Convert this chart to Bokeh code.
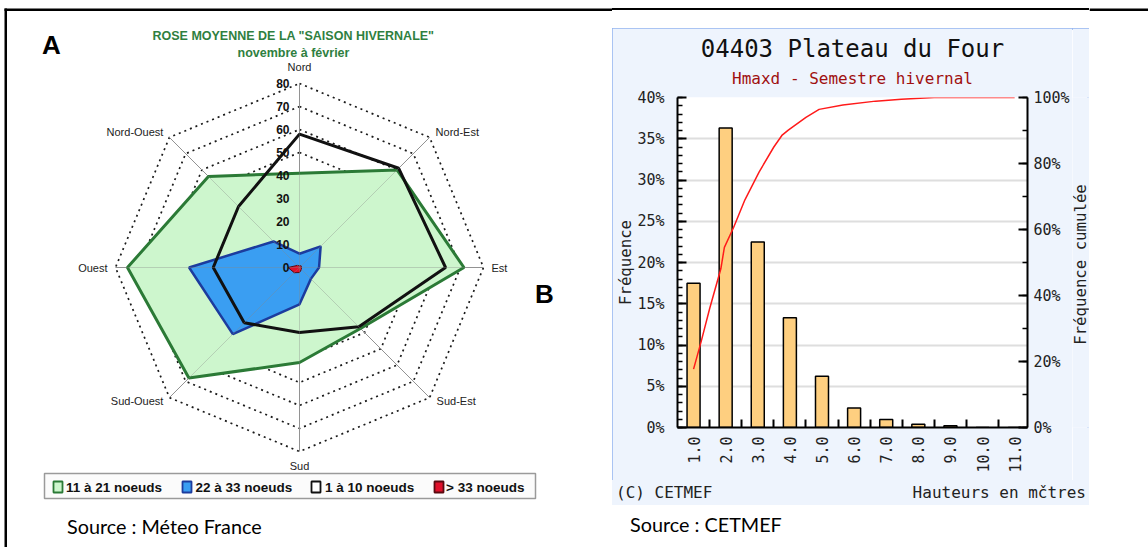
import math
from bokeh.plotting import figure
from bokeh.layouts import row, column
from bokeh.models import (Range1d, LinearAxis, SingleIntervalTicker, FixedTicker,
                          PrintfTickFormatter, Title, Div)
from bokeh.core.properties import value
from bokeh.embed import file_html
from bokeh.resources import INLINE

# ---------------- Panel A data : wind rose (frequency by direction) ----------------
directions = ["Nord", "Nord-Est", "Est", "Sud-Est", "Sud", "Sud-Ouest", "Ouest", "Nord-Ouest"]
angles_deg = [90, 45, 0, -45, -90, -135, 180, 135]
ring_levels = [10, 20, 30, 40, 50, 60, 70, 80]
axis_values = [0, 10, 20, 30, 40, 50, 60, 70, 80]
kn_11_21 = [41.0, 60.0, 71.5, 37.5, 41.3, 68.0, 74.8, 56.0]
kn_22_33 = [6.0, 13.0, 8.5, 7.0, 16.0, 41.0, 48.0, 16.0]
kn_1_10 = [58.0, 61.0, 63.5, 36.5, 28.3, 34.0, 37.5, 37.5]
kn_gt_33 = [0.7, 1.0, 0.8, 1.2, 2.2, 3.2, 5.0, 1.3]
legend_labels = ["11 à 21 noeuds", "22 à 33 noeuds", "1 à 10 noeuds", "> 33 noeuds"]

# ---------------- Panel B data : wave heights histogram ----------------
heights = [1.0, 2.0, 3.0, 4.0, 5.0, 6.0, 7.0, 8.0, 9.0, 10.0, 11.0]
height_labels = ["1.0", "2.0", "3.0", "4.0", "5.0", "6.0", "7.0", "8.0", "9.0", "10.0", "11.0"]
freq_pct = [17.5, 36.3, 22.5, 13.3, 6.2, 2.35, 0.98, 0.4, 0.2, 0.0, 0.0]
cum_x = [1.0, 1.23, 1.5, 1.85, 1.96, 2.25, 2.6, 3.04, 3.5, 3.75, 3.95, 4.5, 4.91, 5.65, 6.67, 7.47, 8.49, 11.0]
cum_pct = [17.7, 25.8, 36.0, 48.1, 54.6, 60.7, 69.0, 77.4, 85.0, 88.5, 90.1, 94.0, 96.4, 97.7, 98.9, 99.5, 100.0, 100.0]

ARIAL = "Liberation Sans"
MONO = "DejaVu Sans Mono"
SRC_FONT = "Lato"
W, H = 1148, 547

# ================= Panel A =================
A_W = 612
S = 2.3            # px per unit
CX, CY = 299, 267  # centre in page pixels


def ax_(X):
    return (X - CX) / S


def ay_(Y):
    return (CY - Y) / S


pA = figure(width=A_W, height=H, x_range=Range1d(ax_(0), ax_(A_W)),
            y_range=Range1d(ay_(H), ay_(0)), x_axis_type=None, y_axis_type=None,
            output_backend="svg", toolbar_location=None, min_border=0,
            outline_line_color=None, background_fill_color="white",
            border_fill_color="white")
pA.grid.visible = False


def polar(vals):
    xs = [v * math.cos(math.radians(a)) for v, a in zip(vals, angles_deg)]
    ys = [v * math.sin(math.radians(a)) for v, a in zip(vals, angles_deg)]
    return xs, ys


# dotted rings
ring_xs, ring_ys = [], []
for lv in ring_levels:
    xs, ys = polar([lv] * len(angles_deg))
    ring_xs.append(xs + xs[:1])
    ring_ys.append(ys + ys[:1])
pA.multi_line(ring_xs, ring_ys, line_color="#1a1a1a", line_width=1.7, line_dash="2 4")

# spokes
sx, sy = polar([ring_levels[-1]] * len(angles_deg))
pA.segment(x0=[0] * len(sx), y0=[0] * len(sy), x1=sx, y1=sy, line_color="#999999", line_width=1)

gx, gy = polar(kn_11_21)
pA.patch(gx, gy, fill_color="#cdf6cd", line_color="#2b7a36", line_width=3)
bx_, by_ = polar(kn_22_33)
pA.patch(bx_, by_, fill_color="#3a9ef2", line_color="#1c3c9e", line_width=2.5)
kx, ky = polar(kn_1_10)
pA.patch(kx, ky, fill_color=None, line_color="#111111", line_width=3)
rx, ry = polar(kn_gt_33)
pA.patch(rx, ry, fill_color="#e0102a", line_color="#5a0a10", line_width=1)

# spokes faintly over the fills
pA.segment(x0=[0] * len(sx), y0=[0] * len(sy), x1=sx, y1=sy, line_color="#888888",
           line_width=1, line_alpha=0.35)

# radial value labels
pA.text(x=[-10 / S] * len(axis_values), y=axis_values, text=[str(v) for v in axis_values],
        text_align="right", text_baseline="middle", text_font=value(ARIAL),
        text_font_style="bold", text_font_size="12px", text_color="#111111")

# direction labels (offsets in px)
offs = {"Nord": (0, -17, "center"), "Nord-Est": (6, -5, "left"), "Est": (8, 0, "left"),
        "Sud-Est": (7, 3, "left"), "Sud": (0, 14, "center"), "Sud-Ouest": (-6, 3, "right"),
        "Ouest": (-8, 0, "right"), "Nord-Ouest": (-6, -5, "right")}
for name, x0, y0 in zip(directions, sx, sy):
    dx, dy, al = offs[name]
    pA.text(x=[x0 + dx / S], y=[y0 - dy / S], text=[name], text_align=al,
            text_baseline="middle", text_font=value(ARIAL), text_font_size="11px",
            text_color="#222222")

# titles
pA.text(x=[ax_(293)], y=[ay_(35)], text=['ROSE MOYENNE DE LA "SAISON HIVERNALE"'],
        text_align="center", text_baseline="middle", text_font=value(ARIAL),
        text_font_style="bold", text_font_size="12.5px", text_color="#2f7f3f")
pA.text(x=[ax_(293)], y=[ay_(52)], text=["novembre à février"],
        text_align="center", text_baseline="middle", text_font=value(ARIAL),
        text_font_style="bold", text_font_size="12.5px", text_color="#2f7f3f")

# legend
pA.quad(left=[ax_(44)], right=[ax_(535)], top=[ay_(473)], bottom=[ay_(498)],
        fill_color="#fbfbfb", line_color="#9a9a9a", line_width=1.5)
sq_left = [53, 182, 311, 434]
txt_left = [65.5, 195, 324.5, 445.5]
sq_fill = ["#cdf6cd", "#3a9ef2", "white", "#e0102a"]
sq_line = ["#2b7a36", "#1c3c9e", "#111111", "#5a0a10"]
pA.quad(left=[ax_(v) for v in sq_left], right=[ax_(v + 9) for v in sq_left],
        top=[ay_(481)] * 4, bottom=[ay_(492)] * 4, fill_color=sq_fill, line_color=sq_line,
        line_width=1.8)
pA.text(x=[ax_(v) for v in txt_left], y=[ay_(487)] * 4, text=legend_labels,
        text_align="left", text_baseline="middle", text_font=value(ARIAL),
        text_font_style="bold", text_font_size="13.5px", text_color="#111111")

# panel letters and source
pA.text(x=[ax_(51)], y=[ay_(44)], text=["A"], text_align="center", text_baseline="middle",
        text_font=value(ARIAL), text_font_style="bold", text_font_size="26px",
        text_color="black")
pA.text(x=[ax_(544)], y=[ay_(293)], text=["B"], text_align="center", text_baseline="middle",
        text_font=value(ARIAL), text_font_style="bold", text_font_size="26px",
        text_color="black")
pA.text(x=[ax_(66.5)], y=[ay_(525)], text=["Source : Méteo France"], text_align="left",
        text_baseline="middle", text_font=value(SRC_FONT), text_font_size="19.8px",
        text_color="black")

# frame lines
pA.quad(left=[ax_(4)], right=[ax_(A_W)], top=[ay_(8)], bottom=[ay_(10.5)],
        fill_color="black", line_color=None)
pA.quad(left=[ax_(4)], right=[ax_(6.5)], top=[ay_(8)], bottom=[ay_(H)],
        fill_color="black", line_color=None)

# ================= Panel B =================
B_L, B_T, B_R, B_B = 612, 28, 1089, 505      # blue box in page px
BX0, BX1, BY0, BY1 = 677, 1027, 427, 97      # plot frame in page px
SPLIT = 1072                                 # start of the right-label strip
FOOT_T = 480                                 # top of the footer strip
BOX_BG = "#eef4fd"
YR = (0, 40)

pB = figure(width=SPLIT - B_L, height=FOOT_T - B_T, x_range=Range1d(0.5, 11.4),
            y_range=Range1d(*YR), output_backend="svg", toolbar_location=None,
            title_location=None,
            min_border_left=BX0 - B_L, min_border_right=SPLIT - BX1,
            min_border_top=BY1 - B_T, min_border_bottom=FOOT_T - BY0,
            background_fill_color="white", border_fill_color=BOX_BG,
            outline_line_color=None)
pB.extra_y_ranges = {"cum": Range1d(0, 100)}

pB.add_layout(Title(text="Hmaxd - Semestre hivernal", align="center", text_font=MONO,
                    text_font_size="16px", text_font_style="normal", text_color="#a01010",
                    standoff=19), "above")
pB.add_layout(Title(text="04403 Plateau du Four", align="center", text_font=MONO,
                    text_font_size="24px", text_font_style="normal", text_color="#111111",
                    standoff=-10), "above")

la = pB.yaxis[0]
la.ticker = SingleIntervalTicker(interval=5, num_minor_ticks=5)
la.formatter = PrintfTickFormatter(format="%d%%")
la.axis_label = "Fréquence"
ra = LinearAxis(y_range_name="cum", ticker=SingleIntervalTicker(interval=20, num_minor_ticks=2),
                formatter=PrintfTickFormatter(format="%d%%"))
pB.add_layout(ra, "right")
for a, st in ((la, 13), (ra, 6)):
    a.axis_line_width = 2
    a.axis_line_color = "black"
    a.major_tick_in = 9
    a.major_tick_out = 0
    a.minor_tick_in = 5
    a.minor_tick_out = 0
    a.major_tick_line_width = 2
    a.minor_tick_line_width = 1.5
    a.major_label_standoff = st
    a.major_label_text_font = MONO
    a.major_label_text_font_size = "15px"
    a.major_label_text_color = "#222222"
la.axis_label_standoff = -1
la.axis_label_text_font = MONO
la.axis_label_text_font_size = "15.7px"
la.axis_label_text_font_style = "normal"
la.axis_label_text_color = "#222222"

xa = pB.xaxis[0]
mids = [(a + b) / 2 for a, b in zip(heights[:-1], heights[1:])]
xa.ticker = FixedTicker(ticks=heights, minor_ticks=mids)
xa.major_label_overrides = {h: lab for h, lab in zip(heights, height_labels)}
xa.major_label_orientation = math.pi / 2
xa.major_tick_in = 0
xa.major_tick_out = 0
xa.minor_tick_in = 8
xa.minor_tick_out = 0
xa.minor_tick_line_width = 2
xa.axis_line_width = 2
xa.major_label_standoff = 9
xa.major_label_text_font = MONO
xa.major_label_text_font_size = "15px"
xa.major_label_text_color = "#222222"

pB.xgrid.visible = False
pB.ygrid.grid_line_color = "#dedede"
pB.ygrid.grid_line_width = 2

pB.vbar(x=heights, top=freq_pct, width=0.405, fill_color="#fecf80", line_color="black",
        line_width=1.5)
pB.line(cum_x, cum_pct, y_range_name="cum", line_color="#ff1a1a", line_width=1.5)

# strip holding the right axis title (reads bottom-to-top)
LW = B_R - SPLIT
pBl = figure(width=LW, height=FOOT_T - B_T, x_range=Range1d(SPLIT, B_R), y_range=Range1d(*YR),
             x_axis_type=None, y_axis_type=None, output_backend="svg", toolbar_location=None,
             title_location=None, min_border_left=0, min_border_right=0,
             min_border_top=BY1 - B_T, min_border_bottom=FOOT_T - BY0,
             background_fill_color=BOX_BG, border_fill_color=BOX_BG, outline_line_color=None)
pBl.grid.visible = False
pBl.text(x=[1079.5], y=[YR[0] + (BY0 - 264) * (YR[1] - YR[0]) / (BY0 - BY1)],
         text=["Fréquence cumulée"], angle=math.pi / 2, text_align="center",
         text_baseline="middle", text_font=value(MONO), text_font_size="15.7px",
         text_color="#222222")

FOOT_H = B_B - FOOT_T
foot_style = {"font-family": MONO, "font-size": "16px", "line-height": f"{FOOT_H}px",
              "color": "#222222", "background-color": BOX_BG, "white-space": "nowrap"}
footL = Div(text="(C) CETMEF", width=238, height=FOOT_H, margin=0,
            styles=dict(foot_style, **{"text-indent": "4px"}))
footR = Div(text="Hauteurs en mčtres", width=236, height=FOOT_H, margin=0,
            styles=dict(foot_style, **{"text-align": "right"}))
footP = Div(text="", width=B_R - B_L - 238 - 236, height=FOOT_H, margin=0,
            styles={"background-color": BOX_BG})

boxB = column(row(pB, pBl), row(footL, footR, footP),
              styles={"outline": "2px solid #93b5ef", "outline-offset": "-2px"})

topB = Div(text="", width=B_R - B_L, height=B_T, margin=0,
           styles={"background-image": "linear-gradient(to bottom, white 0px, white 8px, "
                                       "black 8px, black 10.5px, white 10.5px)"})
srcB = Div(text="Source : CETMEF", width=B_R - B_L, height=H - B_B, margin=0,
           styles={"font-family": SRC_FONT, "font-size": "19.8px", "line-height": "38.6px",
                   "text-indent": "18px", "color": "black", "white-space": "nowrap"})

# ================= right strip =================
R_W = W - B_R
pR = figure(width=R_W, height=H, x_range=Range1d(0, R_W), y_range=Range1d(0, H),
            x_axis_type=None, y_axis_type=None, output_backend="svg",
            toolbar_location=None, min_border=0, outline_line_color=None,
            background_fill_color="white", border_fill_color="white")
pR.grid.visible = False
pR.quad(left=[0], right=[R_W], top=[H - 8], bottom=[H - 10.5], fill_color="black", line_color=None)

layout = row(pA, column(topB, boxB, srcB), pR)
open("out.html", "w").write(file_html(layout, INLINE))
